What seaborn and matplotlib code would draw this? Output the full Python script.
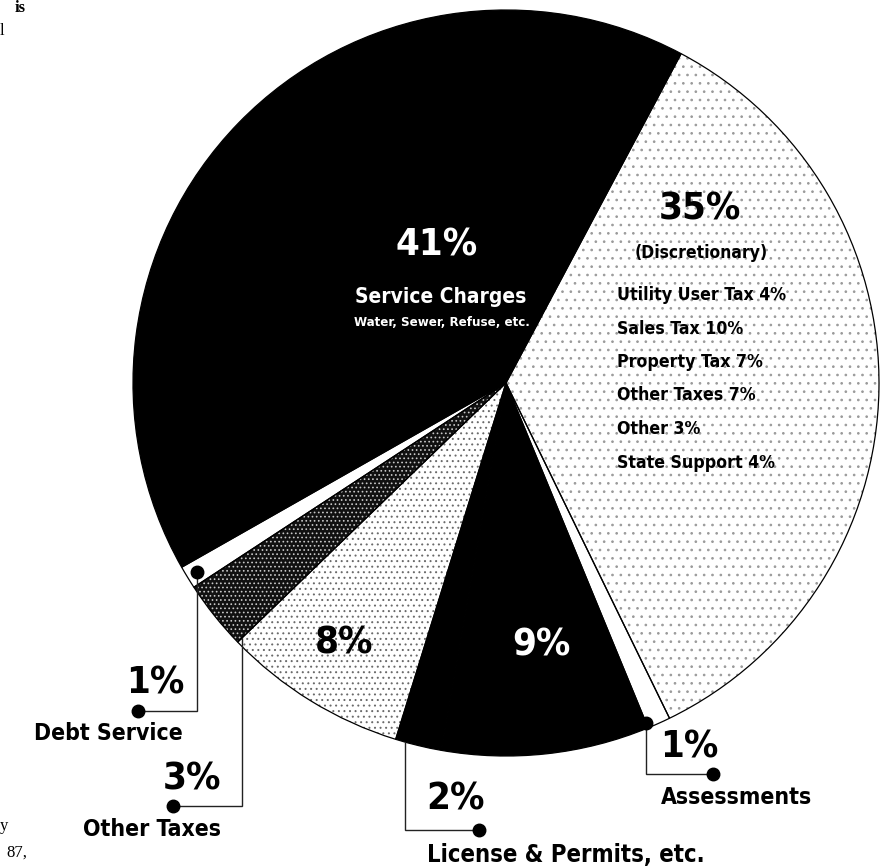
import numpy as np
import matplotlib
matplotlib.use("Agg")
import matplotlib.pyplot as plt
import seaborn as sns

# Revenue shares, listed counter-clockwise from the top-right edge of the black slice
categories = ["Service Charges", "Debt Service", "Other Taxes", "Unlabelled", "License & Permits, etc.",
              "Unlabelled black", "Assessments", "Discretionary"]
shares = [41, 1, 3, 8, 2, 9, 1, 35]

# Breakdown of the discretionary share
disc_items = ["Utility User Tax", "Sales Tax", "Property Tax", "Other Taxes", "Other", "State Support"]
disc_values = [4, 10, 7, 7, 3, 4]

sns.set_theme(style="white")
plt.rcParams["hatch.linewidth"] = 0.7

FONT = ["DejaVu Sans"]
SERIF = ["Liberation Serif", "DejaVu Serif"]

W, H = 886, 867
fig = plt.figure(figsize=(W / 100, H / 100), dpi=100)
ax = fig.add_axes([0, 0, 1, 1])


def Y(y):
    """Convert a top-down pixel row to the axis' bottom-up coordinate."""
    return H - y


CX, CY, R = 506, Y(383), 373
START = 62

fills = ["black", "white", "#111111", "white", "black", "black", "white", "white"]
hatches = [None, None, "....", "...", None, None, None, ".."]
hatch_cols = [None, None, "#c8c8c8", "#6a6a6a", None, None, None, "#9a9a9a"]

wedges, _ = ax.pie(shares, colors=fills, startangle=START, counterclock=True,
                   center=(CX, CY), radius=R, frame=False,
                   wedgeprops=dict(linewidth=0, edgecolor="none"))
for w, h, hc in zip(wedges, hatches, hatch_cols):
    if h:
        w.set_hatch(h)
        w.set_edgecolor(hc)
        w.set_linewidth(0)

# thin outline over the slices
ax.pie(shares, startangle=START, counterclock=True, center=(CX, CY), radius=R, frame=False,
       wedgeprops=dict(fill=False, edgecolor="black", linewidth=0.9))

ax.set_xlim(0, W)
ax.set_ylim(0, H)
ax.set_aspect("equal")
ax.axis("off")


def txt(x, y, s, size, color="black", weight="bold", ha="center", family=FONT,
        stretch="condensed", **kw):
    ax.text(x, Y(y), s, fontsize=size, color=color, fontweight=weight, ha=ha, va="center",
            family=family, fontstretch=stretch, **kw)


BIG = 27.5
LABEL = 16.5

# large slices
txt(437, 245, f"{shares[0]}%", BIG, color="white")
txt(441, 297, categories[0], 15, color="white")
txt(442, 322, "Water, Sewer, Refuse, etc.", 9.5, color="white")

txt(700, 210, f"{shares[7]}%", BIG)
txt(701, 253, f"({categories[7]})", 12.5)
for i, (name, v) in enumerate(zip(disc_items, disc_values)):
    txt(617, 295 + i * 33.5, f"{name} {v}%", 12.7, ha="left")

txt(344, 643, f"{shares[3]}%", BIG)
txt(541, 646, f"{shares[5]}%", BIG, color="white")


def anchor(idx, frac, rad=1.0):
    w = wedges[idx]
    th = np.deg2rad(w.theta1 + frac * (w.theta2 - w.theta1))
    return CX + R * rad * np.cos(th), CY + R * rad * np.sin(th)


def leader(idx, frac, rad, elbow_y, end_x, top_dot):
    x0, y0 = anchor(idx, frac, rad)
    ax.plot([x0, x0, end_x], [y0, Y(elbow_y), Y(elbow_y)], color="#222222", lw=1.0,
            solid_joinstyle="miter")
    if top_dot:
        ax.plot([x0], [y0], "o", color="black", ms=9)
    ax.plot([end_x], [Y(elbow_y)], "o", color="black", ms=9)


# Debt Service
leader(1, 0.5, 0.97, 711, 138, True)
txt(155, 684, f"{shares[1]}%", BIG)
txt(108, 733, categories[1], LABEL)

# Other Taxes
leader(2, 1.0, 0.985, 806, 173, False)
txt(192, 779, f"{shares[2]}%", BIG)
txt(152, 830, categories[2], LABEL)

# License & Permits
leader(4, 0.2, 1.0, 830, 479, False)
txt(456, 800, f"{shares[4]}%", BIG)
txt(566, 855, categories[4], LABEL + 0.6)

# Assessments
leader(6, 0.0, 0.985, 774, 713, True)
txt(689, 748, f"{shares[6]}%", BIG)
txt(737, 797, categories[6], LABEL)

# fragments of the surrounding page text
txt(15, 8, "is", 12, weight="bold", ha="left", family=SERIF, stretch="normal")
txt(0, 31, "l", 12, weight="normal", ha="left", family=SERIF, stretch="normal")
txt(0, 826, "y", 12, weight="normal", ha="left", family=SERIF, stretch="normal")
txt(6, 853, "87,", 12, weight="normal", ha="left", family=SERIF, stretch="normal")

fig.savefig("out.png", dpi=100, facecolor="white")
